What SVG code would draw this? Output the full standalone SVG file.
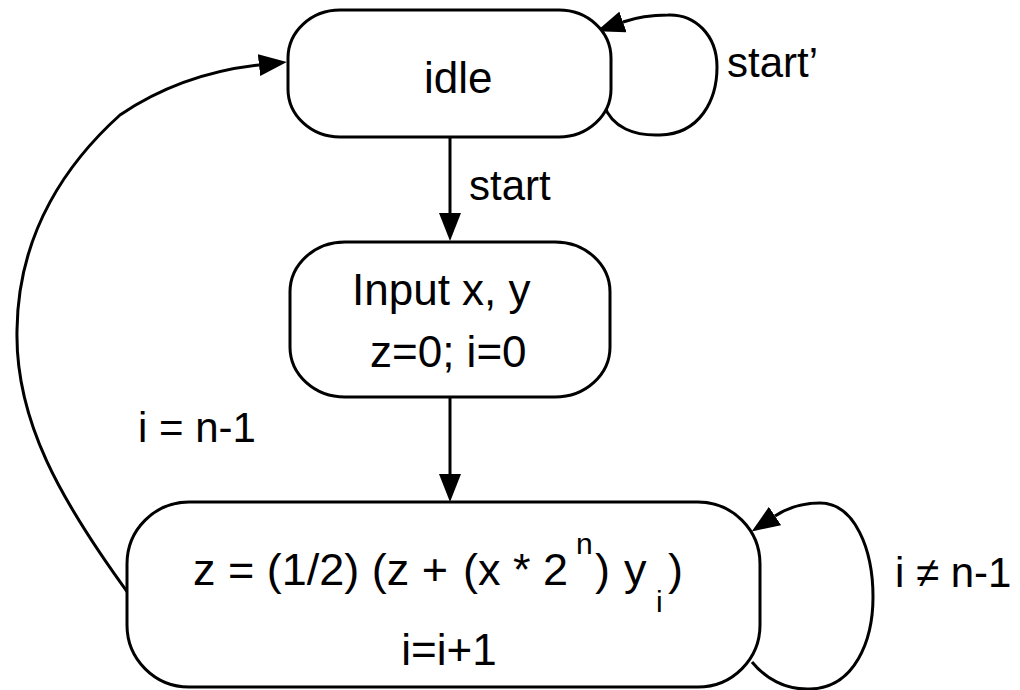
<svg xmlns="http://www.w3.org/2000/svg" width="1020" height="690" viewBox="0 0 1020 690">
  <style>
    .state { fill: #ffffff; stroke: #000000; stroke-width: 3; }
    .edge { fill: none; stroke: #000000; stroke-width: 3; }
    text { font-family: "Liberation Sans", Arial, sans-serif; fill: #000000; }
    .big { font-size: 44px; }
    .eq { font-size: 45px; }
    .lbl { font-size: 42px; }
    .small { font-size: 30px; }
  </style>
  <defs>
    <marker id="arrow" viewBox="0 -11 28 22" refX="0" refY="0" markerWidth="28" markerHeight="22" markerUnits="userSpaceOnUse" orient="auto">
      <path d="M0,-11 L28,0 L0,11 z" fill="#000000"/>
    </marker>
  </defs>
  <rect width="1020" height="690" fill="#ffffff"/>

  <!-- transitions -->
  <g id="connectors">
    <!-- idle -> input (start) -->
    <path class="edge" d="M450,137 L450,213" marker-end="url(#arrow)"/>
    <!-- input -> compute -->
    <path class="edge" d="M450,397 L450,474" marker-end="url(#arrow)"/>
    <!-- idle self loop (start') -->
    <path class="edge" d="M604,105 C612,128 635,136 660,135 C700,134 717,100 717,67 C717,35 695,14 668,15 C655,15 640,16 623,22" marker-end="url(#arrow)"/>
    <!-- compute self loop (i != n-1) -->
    <path class="edge" d="M752,662 C765,678 785,690 810,689 C855,688 873,640 873,597 C873,550 855,503 820,503 C800,503 787,508 775,516" marker-end="url(#arrow)"/>
    <!-- compute -> idle (i = n-1) -->
    <path class="edge" d="M131,597 C60,500 15,420 17,330 C18,230 70,160 120,115 C160,88 205,71 259,65" marker-end="url(#arrow)"/>
    <text class="lbl" x="469" y="200">start</text>
    <text class="lbl" x="727" y="77">start’</text>
    <text class="lbl" x="138" y="442">i = n-1</text>
    <text class="lbl" x="895" y="587">i ≠ n-1</text>
  </g>

  <g id="idle">
    <rect class="state" x="288" y="10" width="323" height="127" rx="52" ry="48"/>
    <text class="big" x="424" y="93">idle</text>
  </g>

  <g id="input">
    <rect class="state" x="290" y="242" width="320" height="155" rx="55" ry="50"/>
    <text class="big" x="352" y="305">Input x, y</text>
    <text class="big" x="370" y="367">z=0; i=0</text>
  </g>

  <g id="compute">
    <rect class="state" x="127" y="502" width="633" height="185" rx="62" ry="62"/>
    <text class="eq" x="193" y="585">z = (1/2) (z +</text>
    <text class="eq" x="463" y="585">(x * 2</text>
    <text class="small" x="576" y="554">n</text>
    <text class="eq" x="595" y="585">)</text>
    <text class="eq" x="624" y="585">y</text>
    <text class="small" x="656" y="612">i</text>
    <text class="eq" x="668" y="585">)</text>
    <text class="big" x="449" y="665" text-anchor="middle">i=i+1</text>
  </g>
</svg>
